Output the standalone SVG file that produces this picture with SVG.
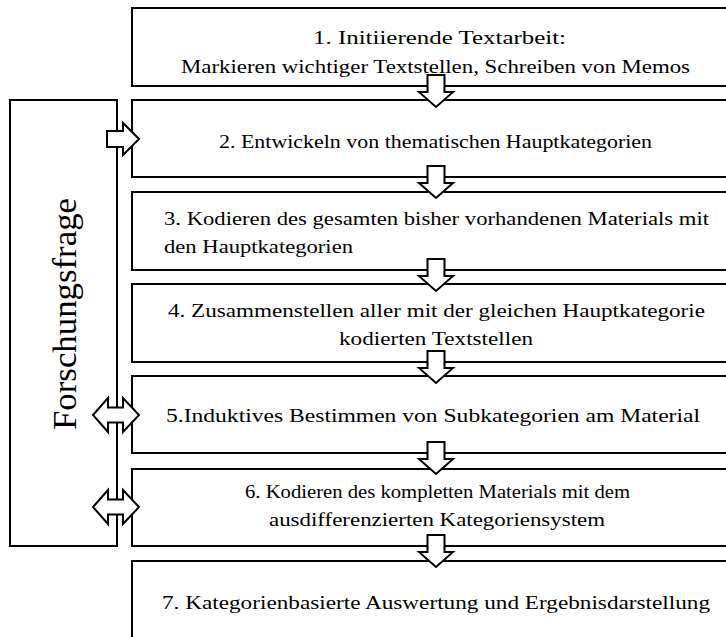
<svg xmlns="http://www.w3.org/2000/svg" width="726" height="637" viewBox="0 0 726 637">
  <style>
    .box { fill: #ffffff; stroke: #000000; stroke-width: 2; }
    .arrow { fill: #ffffff; stroke: #000000; stroke-width: 2; stroke-linejoin: miter; }
    .t { font-family: "Liberation Serif", "Times New Roman", serif; font-size: 18.5px; fill: #000000; }
    .big { font-family: "Liberation Serif", "Times New Roman", serif; font-size: 34px; fill: #000000; }
  </style>

  <!-- side box with the research question -->
  <g id="forschungsfrage">
    <rect class="box" x="10" y="100" width="107" height="446"/>
    <text class="big" transform="translate(76,314) rotate(-90)" text-anchor="middle" textLength="232" lengthAdjust="spacingAndGlyphs">Forschungsfrage</text>
  </g>

  <!-- process steps -->
  <g id="step1">
    <rect class="box" x="132" y="8" width="620" height="78"/>
    <text class="t" x="439.5" y="44" text-anchor="middle" textLength="253" lengthAdjust="spacingAndGlyphs">1. Initiierende Textarbeit:</text>
    <text class="t" x="435.5" y="73" text-anchor="middle" textLength="509" lengthAdjust="spacingAndGlyphs">Markieren wichtiger Textstellen, Schreiben von Memos</text>
  </g>
  <g id="step2">
    <rect class="box" x="132" y="100" width="620" height="77"/>
    <text class="t" x="435.5" y="148" text-anchor="middle" textLength="433" lengthAdjust="spacingAndGlyphs">2. Entwickeln von thematischen Hauptkategorien</text>
  </g>
  <g id="step3">
    <rect class="box" x="132" y="192" width="620" height="78"/>
    <text class="t" x="164" y="225" textLength="545" lengthAdjust="spacingAndGlyphs">3. Kodieren des gesamten bisher vorhandenen Materials mit</text>
    <text class="t" x="164" y="253" textLength="189" lengthAdjust="spacingAndGlyphs">den Hauptkategorien</text>
  </g>
  <g id="step4">
    <rect class="box" x="132" y="284" width="620" height="78"/>
    <text class="t" x="436.5" y="317" text-anchor="middle" textLength="537" lengthAdjust="spacingAndGlyphs">4. Zusammenstellen aller mit der gleichen Hauptkategorie</text>
    <text class="t" x="436" y="345" text-anchor="middle" textLength="194" lengthAdjust="spacingAndGlyphs">kodierten Textstellen</text>
  </g>
  <g id="step5">
    <rect class="box" x="132" y="376" width="620" height="77"/>
    <text class="t" x="433" y="422" text-anchor="middle" textLength="534" lengthAdjust="spacingAndGlyphs">5.Induktives Bestimmen von Subkategorien am Material</text>
  </g>
  <g id="step6">
    <rect class="box" x="132" y="469" width="620" height="77"/>
    <text class="t" x="437.5" y="498" text-anchor="middle" textLength="385" lengthAdjust="spacingAndGlyphs">6. Kodieren des kompletten Materials mit dem</text>
    <text class="t" x="437" y="526" text-anchor="middle" textLength="336" lengthAdjust="spacingAndGlyphs">ausdifferenzierten Kategoriensystem</text>
  </g>
  <g id="step7">
    <rect class="box" x="132" y="561" width="620" height="90"/>
    <text class="t" x="436" y="609" text-anchor="middle" textLength="548" lengthAdjust="spacingAndGlyphs">7. Kategorienbasierte Auswertung und Ergebnisdarstellung</text>
  </g>

  <!-- block arrows -->
  <g id="connectors">
    <defs>
      <polygon id="down" class="arrow" points="-8.5,0 8.5,0 8.5,17 17,17 0,32 -17,17 -8.5,17"/>
    </defs>
    <use href="#down" x="436" y="75"/>
    <use href="#down" x="436" y="166"/>
    <use href="#down" x="436" y="259"/>
    <use href="#down" x="436" y="351"/>
    <use href="#down" x="436" y="442"/>
    <use href="#down" x="436" y="535"/>
    <!-- research question feeds step 2 -->
    <polygon class="arrow" points="107,131 123,131 123,123 139,139 123,155 123,147 107,147"/>
    <!-- two-way links to steps 5 and 6 -->
    <polygon class="arrow" points="93,415 108,398 108,407.5 123,407.5 123,398 139,415 123,432 123,422.5 108,422.5 108,432"/>
    <polygon class="arrow" points="93,507 108,490 108,499.5 123,499.5 123,490 139,507 123,524 123,514.5 108,514.5 108,524"/>
  </g>
</svg>
